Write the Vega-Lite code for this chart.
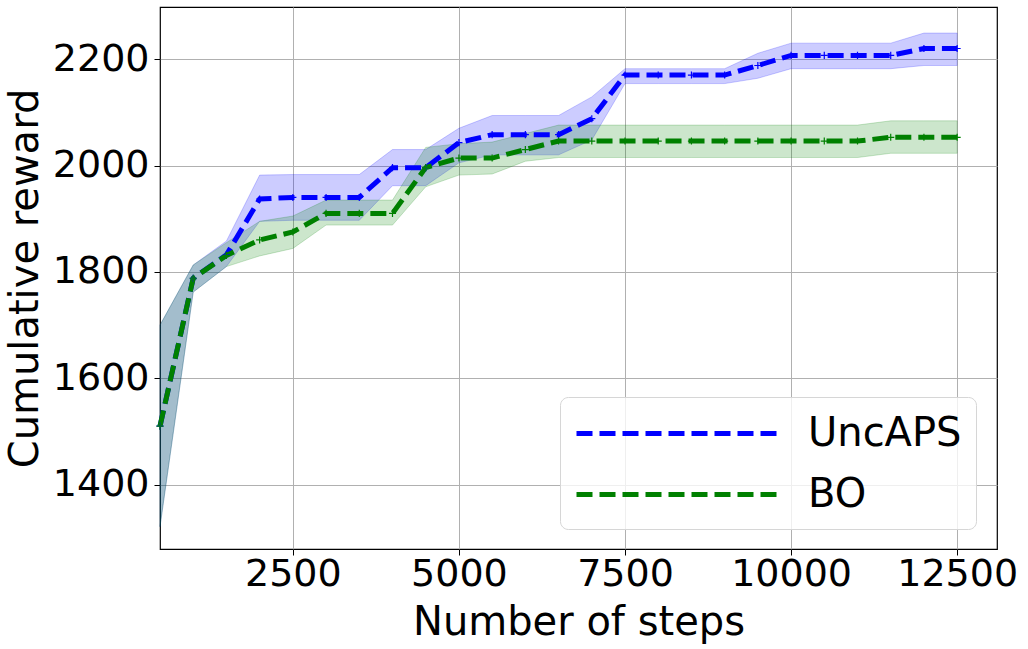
{
  "$schema": "https://vega.github.io/schema/vega-lite/v6.json",
  "width": 837,
  "height": 542,
  "autosize": {"type": "none"},
  "padding": {"left": 160, "top": 7, "right": 31, "bottom": 100},
  "background": "white",
  "config": {
    "font": "DejaVu Sans",
    "view": {"stroke": "black", "strokeWidth": 1.2},
    "axis": {
      "grid": true, "gridColor": "#b0b0b0", "gridWidth": 1, "domain": false,
      "tickColor": "black", "tickSize": 6, "labelColor": "black", "titleColor": "black",
      "labelFont": "DejaVu Sans", "titleFont": "DejaVu Sans", "titleFontWeight": "normal"
    }
  },
  "data": {"values": [
    {"s":"UncAPS","x":500,"m":1510,"lo":1321,"hi":1700},
    {"s":"UncAPS","x":1000,"m":1788,"lo":1762,"hi":1813},
    {"s":"UncAPS","x":1500,"m":1832,"lo":1810,"hi":1858},
    {"s":"UncAPS","x":2000,"m":1937,"lo":1895,"hi":1982},
    {"s":"UncAPS","x":2500,"m":1940,"lo":1897,"hi":1983},
    {"s":"UncAPS","x":3000,"m":1940,"lo":1897,"hi":1983},
    {"s":"UncAPS","x":3500,"m":1940,"lo":1897,"hi":1983},
    {"s":"UncAPS","x":4000,"m":1996,"lo":1962,"hi":2030},
    {"s":"UncAPS","x":4500,"m":1996,"lo":1962,"hi":2030},
    {"s":"UncAPS","x":5000,"m":2043,"lo":2005,"hi":2070},
    {"s":"UncAPS","x":5500,"m":2058,"lo":2020,"hi":2094},
    {"s":"UncAPS","x":6000,"m":2058,"lo":2020,"hi":2094},
    {"s":"UncAPS","x":6500,"m":2058,"lo":2020,"hi":2094},
    {"s":"UncAPS","x":7000,"m":2088,"lo":2048,"hi":2129},
    {"s":"UncAPS","x":7500,"m":2170,"lo":2154,"hi":2182},
    {"s":"UncAPS","x":8000,"m":2170,"lo":2154,"hi":2182},
    {"s":"UncAPS","x":8500,"m":2170,"lo":2154,"hi":2182},
    {"s":"UncAPS","x":9000,"m":2170,"lo":2154,"hi":2182},
    {"s":"UncAPS","x":9500,"m":2188,"lo":2164,"hi":2211},
    {"s":"UncAPS","x":10000,"m":2207,"lo":2182,"hi":2230},
    {"s":"UncAPS","x":10500,"m":2207,"lo":2182,"hi":2230},
    {"s":"UncAPS","x":11000,"m":2207,"lo":2182,"hi":2230},
    {"s":"UncAPS","x":11500,"m":2207,"lo":2182,"hi":2230},
    {"s":"UncAPS","x":12000,"m":2220,"lo":2188,"hi":2249},
    {"s":"UncAPS","x":12500,"m":2220,"lo":2188,"hi":2249},
    {"s":"BO","x":500,"m":1510,"lo":1321,"hi":1700},
    {"s":"BO","x":1000,"m":1788,"lo":1762,"hi":1813},
    {"s":"BO","x":1500,"m":1831,"lo":1810,"hi":1855},
    {"s":"BO","x":2000,"m":1860,"lo":1830,"hi":1895},
    {"s":"BO","x":2500,"m":1875,"lo":1844,"hi":1905},
    {"s":"BO","x":3000,"m":1910,"lo":1888,"hi":1935},
    {"s":"BO","x":3500,"m":1910,"lo":1888,"hi":1935},
    {"s":"BO","x":4000,"m":1910,"lo":1888,"hi":1935},
    {"s":"BO","x":4500,"m":1996,"lo":1960,"hi":2034},
    {"s":"BO","x":5000,"m":2014,"lo":1982,"hi":2041},
    {"s":"BO","x":5500,"m":2014,"lo":1984,"hi":2044},
    {"s":"BO","x":6000,"m":2030,"lo":2008,"hi":2060},
    {"s":"BO","x":6500,"m":2046,"lo":2015,"hi":2076},
    {"s":"BO","x":7000,"m":2046,"lo":2015,"hi":2076},
    {"s":"BO","x":7500,"m":2046,"lo":2015,"hi":2076},
    {"s":"BO","x":8000,"m":2046,"lo":2015,"hi":2076},
    {"s":"BO","x":8500,"m":2046,"lo":2015,"hi":2076},
    {"s":"BO","x":9000,"m":2046,"lo":2015,"hi":2076},
    {"s":"BO","x":9500,"m":2046,"lo":2015,"hi":2076},
    {"s":"BO","x":10000,"m":2046,"lo":2015,"hi":2076},
    {"s":"BO","x":10500,"m":2046,"lo":2015,"hi":2076},
    {"s":"BO","x":11000,"m":2046,"lo":2015,"hi":2076},
    {"s":"BO","x":11500,"m":2053,"lo":2023,"hi":2084},
    {"s":"BO","x":12000,"m":2053,"lo":2023,"hi":2084},
    {"s":"BO","x":12500,"m":2053,"lo":2023,"hi":2084}
  ]},
  "encoding": {
    "x": {"field": "x", "type": "quantitative",
      "scale": {"domain": [500, 13100], "nice": false, "zero": false},
      "axis": {"values": [2500, 5000, 7500, 10000, 12500], "format": "d",
        "labelFontSize": 38, "labelPadding": 0, "title": "Number of steps", "titleFontSize": 40,
        "titleY": 85, "titleBaseline": "alphabetic", "titleAnchor": "middle"}},
    "y": {"field": "m", "type": "quantitative",
      "scale": {"domain": [1279, 2298], "nice": false, "zero": false},
      "axis": {"values": [1400, 1600, 1800, 2000, 2200], "format": "d",
        "labelFontSize": 38, "labelPadding": 5, "title": "Cumulative reward", "titleFontSize": 40,
        "titleX": -123, "titleY": 271, "titleBaseline": "alphabetic", "titleAngle": -90, "titleAnchor": "middle"}}
  },
  "layer": [
    {
      "mark": {"type": "area", "fillOpacity": 0.2, "strokeOpacity": 0.2, "strokeWidth": 1},
      "encoding": {
        "y": {"field": "lo", "type": "quantitative"},
        "y2": {"field": "hi"},
        "color": {"field": "s", "type": "nominal"},
        "stroke": {"field": "s", "type": "nominal", "scale": {"domain": ["UncAPS", "BO"], "range": ["#0000ff", "#008000"]}, "legend": null}
      }
    },
    {
      "mark": {"type": "line", "strokeWidth": 5, "strokeDash": [16, 7]},
      "encoding": {
        "color": {"field": "s", "type": "nominal", "scale": {"domain": ["UncAPS", "BO"], "range": ["#0000ff", "#008000"]},
          "legend": {"orient": "none", "legendX": 400, "legendY": 390, "title": null,
            "symbolType": "M -1 0 L 9 0", "symbolSize": 1600, "symbolStrokeWidth": 5, "symbolDash": [16, 7],
            "symbolFillColor": "transparent",
            "labelFontSize": 40, "labelFont": "DejaVu Sans", "labelColor": "black", "labelOffset": 189,
            "padding": 14, "rowPadding": 18, "cornerRadius": 8,
            "fillColor": "rgba(255,255,255,0.8)", "strokeColor": "#d6d6d6"}}
      }
    },
    {
      "mark": {"type": "point", "shape": "M -1 0 L 1 0 M 0 -1 L 0 1", "filled": false, "size": 50, "strokeWidth": 1.2, "opacity": 1},
      "encoding": {
        "color": {"field": "s", "type": "nominal"}
      }
    }
  ]
}
